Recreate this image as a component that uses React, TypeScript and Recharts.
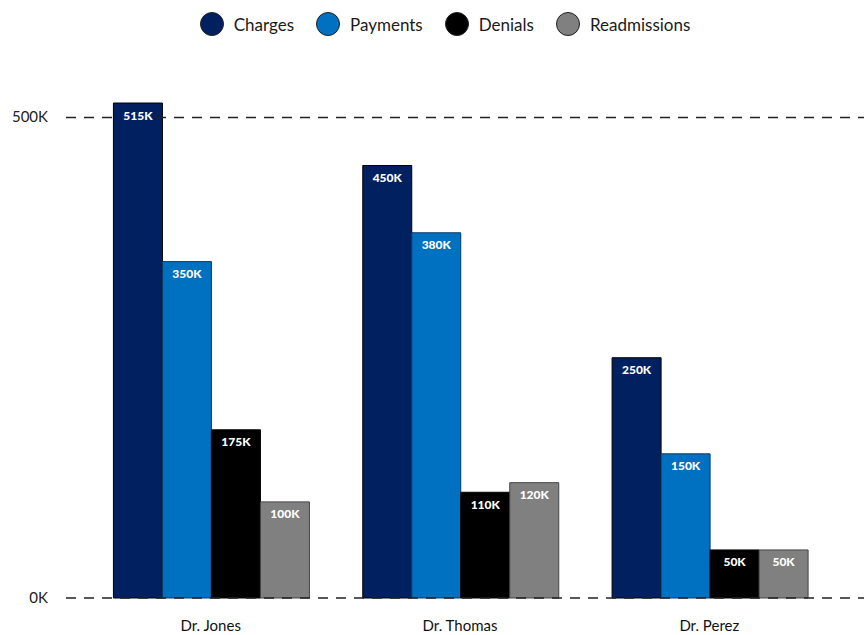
import { BarChart, Bar, XAxis, YAxis, ReferenceLine, Legend, LabelList } from "recharts";

// Office-style palette from the reference
const NAVY = "#002060";
const BLUE = "#0070C0";
const BLACK = "#000000";
const GREY = "#808080";
const FONT = "Lato, 'Open Sans', sans-serif";

const doctors = ["Dr. Jones", "Dr. Thomas", "Dr. Perez"];
const charges = [515000, 450000, 250000];
const payments = [350000, 380000, 150000];
const denials = [175000, 110000, 50000];
const readmissions = [100000, 120000, 50000];
const yTicks = [0, 500000];

const data = doctors.map((name, i) => ({
  name,
  charges: charges[i],
  payments: payments[i],
  denials: denials[i],
  readmissions: readmissions[i],
}));

const series = [
  { key: "charges", label: "Charges", fill: NAVY, stroke: "#000" },
  { key: "payments", label: "Payments", fill: BLUE, stroke: "#0a3a66" },
  { key: "denials", label: "Denials", fill: BLACK, stroke: "#000" },
  { key: "readmissions", label: "Readmissions", fill: GREY, stroke: "#444" },
];

const fmtK = (v: any) => `${Math.round(Number(v) / 1000)}K`;

function LegendContent() {
  return (
    <div style={{ display: "flex", justifyContent: "center", alignItems: "center", fontFamily: FONT, fontSize: 17, color: "#1a1a1a", paddingLeft: 26 }}>
      {series.map((s) => (
        <div key={s.key} style={{ display: "flex", alignItems: "center", margin: "0 11px" }}>
          <span
            style={{
              display: "inline-block",
              width: 22,
              height: 22,
              borderRadius: "50%",
              background: s.fill,
              border: "1.5px solid #222",
              marginRight: 10,
            }}
          />
          <span>{s.label}</span>
        </div>
      ))}
    </div>
  );
}

function YTick({ y, payload }: any) {
  return (
    <text x={48} y={y} dy={5} textAnchor="end" fontFamily={FONT} fontSize={15} fill="#222">
      {fmtK(payload.value)}
    </text>
  );
}

export default function App() {
  return (
    <div style={{ position: "absolute", left: 0, top: 0, background: "#fff" }}>
      <BarChart
        width={864}
        height={635}
        data={data}
        margin={{ top: 55, right: 0, bottom: 0, left: 0 }}
        barGap={0}
        barCategoryGap="11%"
      >
        <XAxis
          dataKey="name"
          axisLine={false}
          tickLine={false}
          height={37}
          tickMargin={16}
          padding={{ left: 20, right: 30 }}
          tick={{ fontFamily: FONT, fontSize: 15, fill: "#111" }}
        />
        <YAxis
          domain={[0, 540000]}
          ticks={yTicks}
          axisLine={false}
          tickLine={false}
          width={66}
          tick={<YTick />}
        />
        <Legend verticalAlign="top" align="center" content={<LegendContent />} wrapperStyle={{ top: 12 }} />
        {series.map((s) => (
          <Bar key={s.key} dataKey={s.key} fill={s.fill} stroke={s.stroke} strokeWidth={1} isAnimationActive={false}>
            <LabelList
              dataKey={s.key}
              position="insideTop"
              offset={8}
              formatter={fmtK}
              fill="#fff"
              fontFamily={FONT}
              fontWeight={900}
              fontSize={12}
            />
          </Bar>
        ))}
        {yTicks.map((t) => (
          <ReferenceLine key={t} y={t} stroke="#222" strokeWidth={1.5} strokeDasharray="10 8" />
        ))}
      </BarChart>
    </div>
  );
}
